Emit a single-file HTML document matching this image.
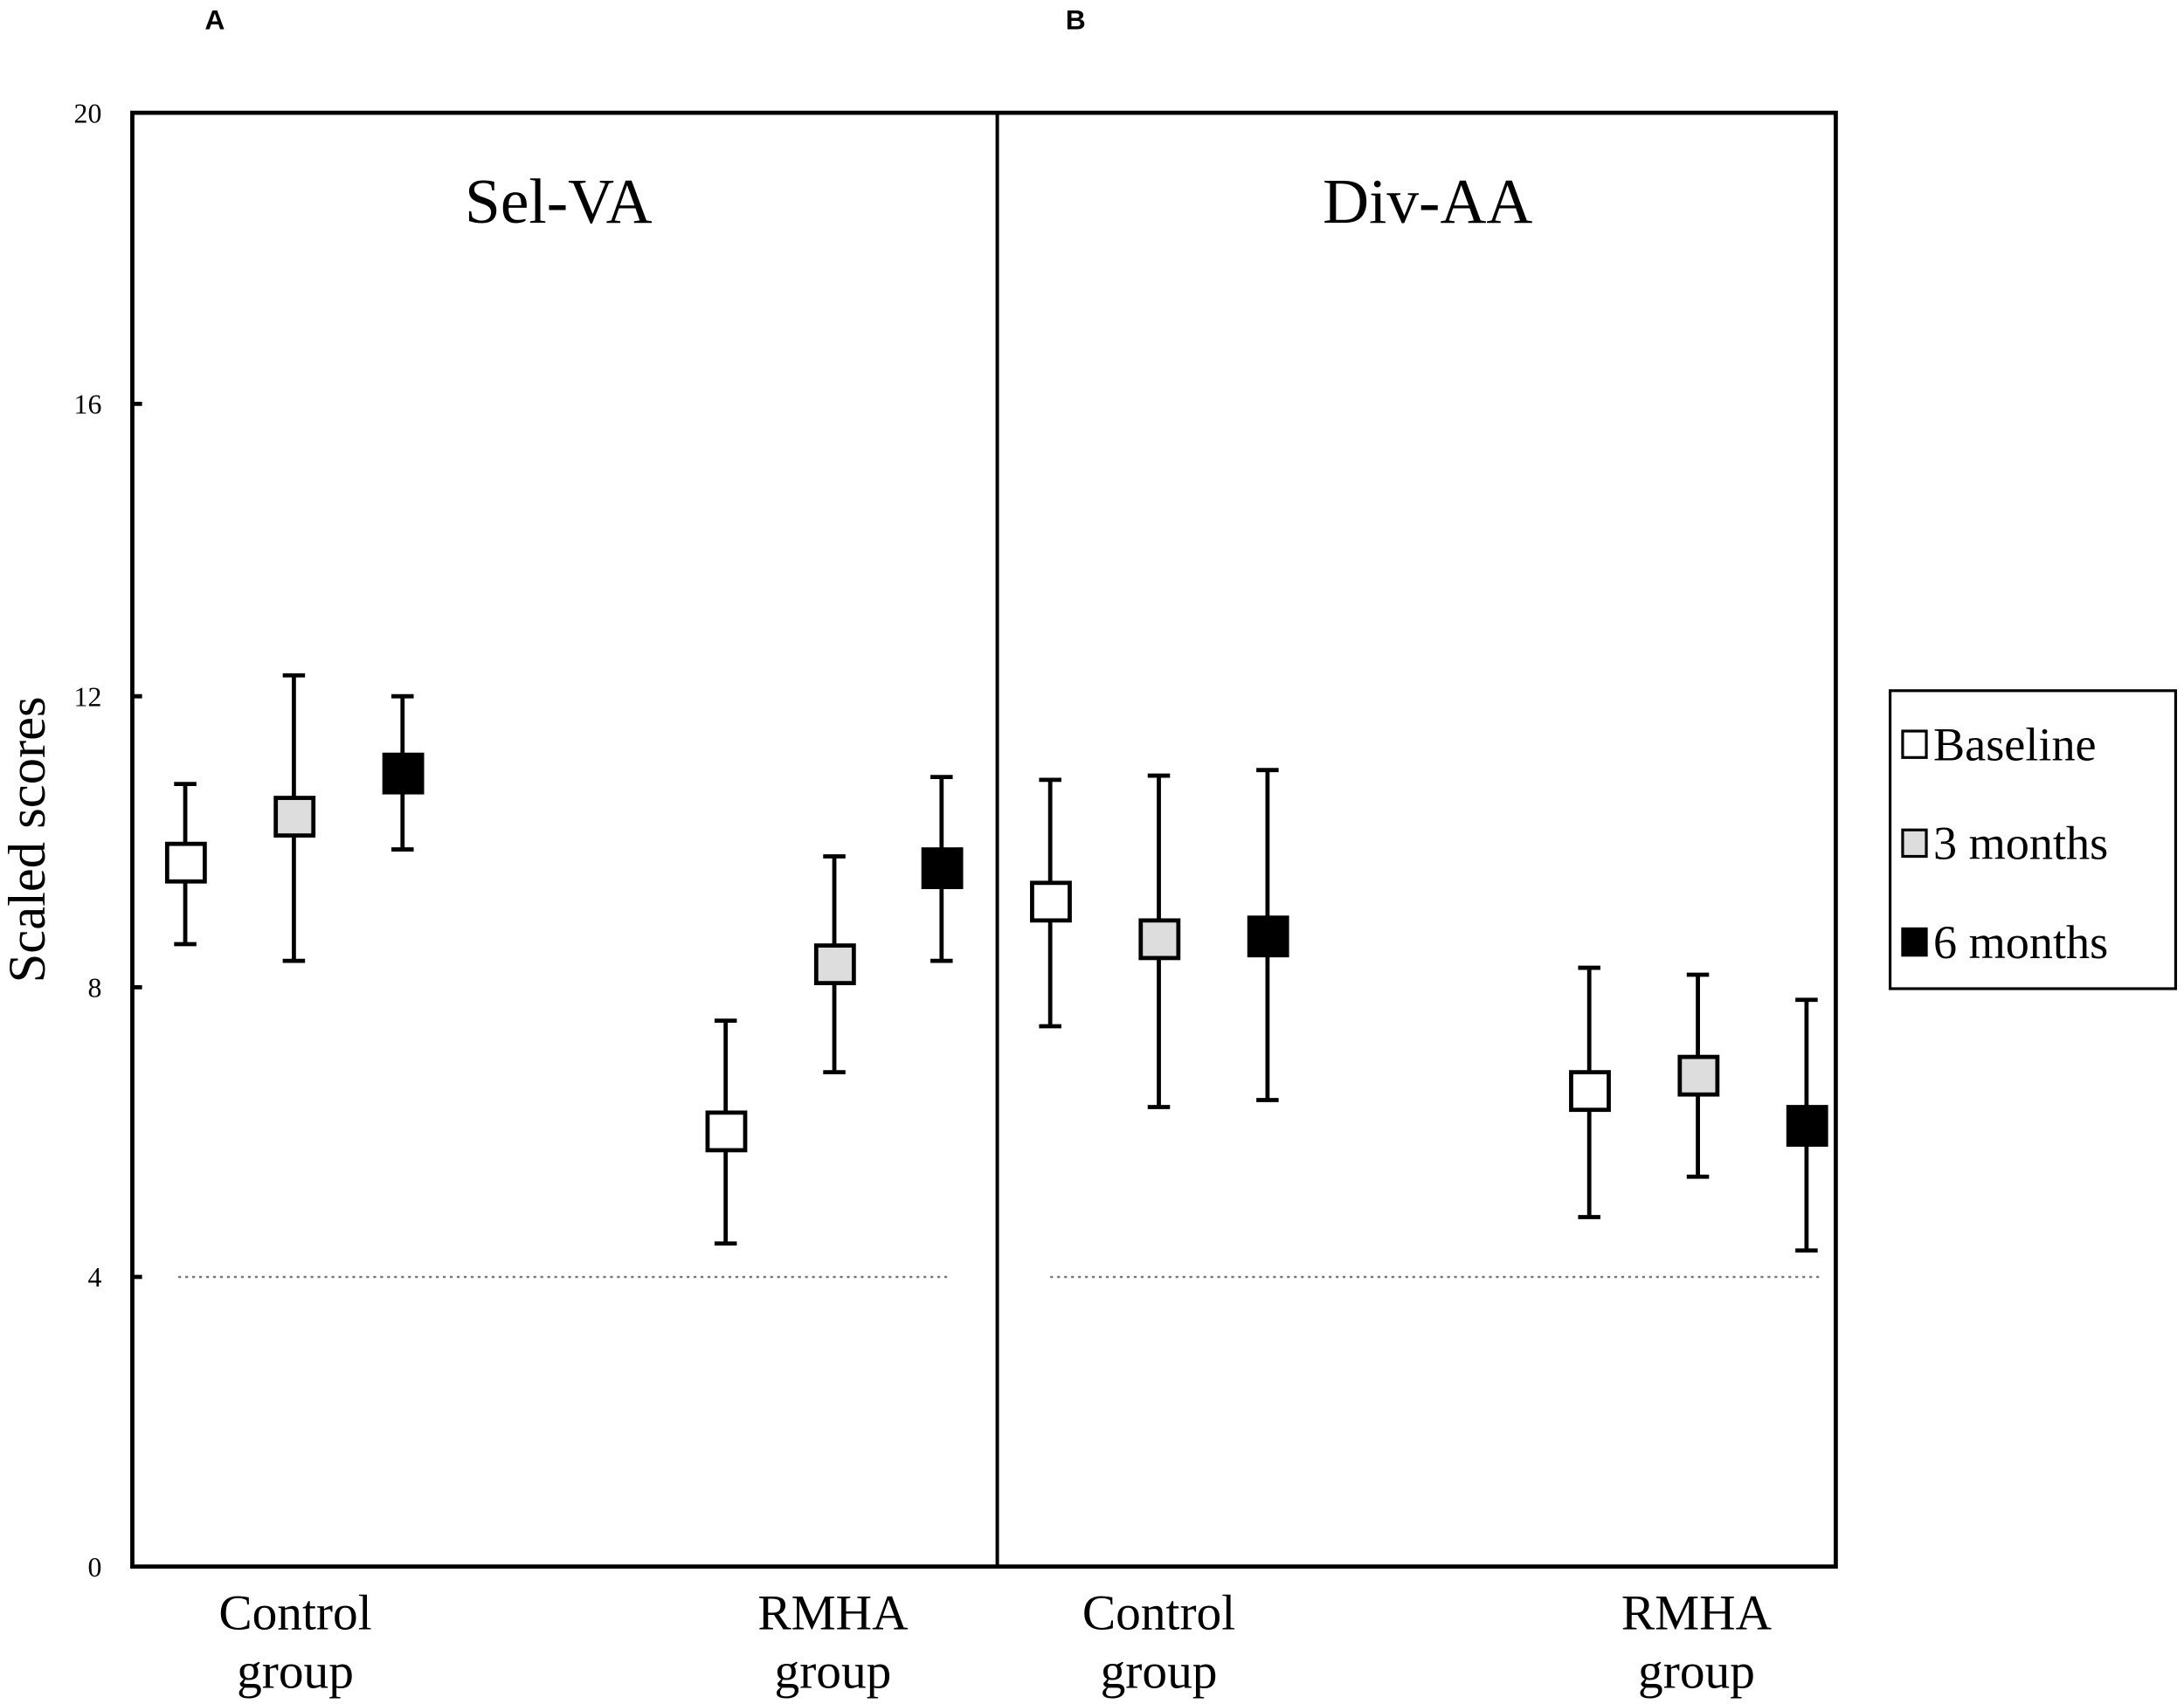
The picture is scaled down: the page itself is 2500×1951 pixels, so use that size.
<!DOCTYPE html>
<html><head><meta charset="utf-8"><style>html,body{margin:0;padding:0;background:#fff;}svg{display:block;}</style></head>
<body>
<svg width="2500" height="1951" viewBox="0 0 1568 1223.7" preserveAspectRatio="none" xmlns="http://www.w3.org/2000/svg">
<rect width="1568" height="1224" fill="#fff"/>
<g font-family="Liberation Sans, sans-serif" font-weight="bold" font-size="20" fill="#000">
<text x="147" y="21">A</text><text x="765" y="21">B</text>
</g>
<g font-family="Liberation Serif, serif" fill="#000">
<g font-size="20" text-anchor="end">
<text x="73" y="88">20</text><text x="73" y="297">16</text><text x="73" y="507">12</text><text x="73" y="716">8</text><text x="73" y="924">4</text><text x="73" y="1132">0</text>
</g>
<text font-size="38" transform="translate(32,603) rotate(-90)" text-anchor="middle">Scaled scores</text>
<text x="401" y="160" font-size="46" text-anchor="middle">Sel-VA</text>
<text x="1025" y="160" font-size="46" text-anchor="middle">Div-AA</text>
<g font-size="36" text-anchor="middle">
<text x="212" y="1170">Control</text><text x="212" y="1212">group</text>
<text x="598" y="1170">RMHA</text><text x="598" y="1212">group</text>
<text x="832" y="1170">Control</text><text x="832" y="1212">group</text>
<text x="1218" y="1170">RMHA</text><text x="1218" y="1212">group</text>
</g>
<g font-size="34">
<text x="1388" y="546">Baseline</text><text x="1388" y="617">3 months</text><text x="1388" y="688">6 months</text>
</g>
</g>
<rect x="1357" y="496" width="205" height="214" fill="none" stroke="#000" stroke-width="2"/>
<rect x="1366" y="525" width="17" height="19" fill="#fff" stroke="#000" stroke-width="2"/>
<rect x="1366" y="596" width="17" height="19" fill="#ddd" stroke="#000" stroke-width="2"/>
<rect x="1366" y="667" width="17" height="19" fill="#000" stroke="#000" stroke-width="2"/>
<g stroke="#000" stroke-width="3" fill="none">
<path d="M95 81 H1318 V1125 H95 Z"/>
<path d="M716 81 V1125" stroke-width="2.5"/>
<path d="M95 290 h7 M95 500 h7 M95 709 h7 M95 917 h7"/>
</g>
<g stroke="#777" stroke-width="1.5" stroke-dasharray="2,3">
<path d="M128 917 H683 M754 917 H1307"/>
</g>
<g stroke="#000" stroke-width="3">
<path d="M133 563V678M125 563h16M125 678h16"/>
<path d="M211 485V690M203 485h16M203 690h16"/>
<path d="M289 500V610M281 500h16M281 610h16"/>
<path d="M521 733V893M513 733h16M513 893h16"/>
<path d="M599 615V770M591 615h16M591 770h16"/>
<path d="M676 558V690M668 558h16M668 690h16"/>
<path d="M754 560V737M746 560h16M746 737h16"/>
<path d="M832 557V795M824 557h16M824 795h16"/>
<path d="M910 553V790M902 553h16M902 790h16"/>
<path d="M1141 695V874M1133 695h16M1133 874h16"/>
<path d="M1219 700V845M1211 700h16M1211 845h16"/>
<path d="M1297 718V898M1289 718h16M1289 898h16"/>
</g>
<g stroke="#000" stroke-width="3">
<rect x="120" y="606" width="27" height="27" fill="#fff"/>
<rect x="198" y="573" width="27" height="27" fill="#ddd"/>
<rect x="276" y="542" width="27" height="27" fill="#000"/>
<rect x="508" y="799" width="27" height="27" fill="#fff"/>
<rect x="586" y="679" width="27" height="27" fill="#ddd"/>
<rect x="663" y="610" width="27" height="27" fill="#000"/>
<rect x="741" y="634" width="27" height="27" fill="#fff"/>
<rect x="819" y="661" width="27" height="27" fill="#ddd"/>
<rect x="897" y="659" width="27" height="27" fill="#000"/>
<rect x="1128" y="770" width="27" height="27" fill="#fff"/>
<rect x="1206" y="759" width="27" height="27" fill="#ddd"/>
<rect x="1284" y="795" width="27" height="27" fill="#000"/>
</g>
</svg>
</body></html>
